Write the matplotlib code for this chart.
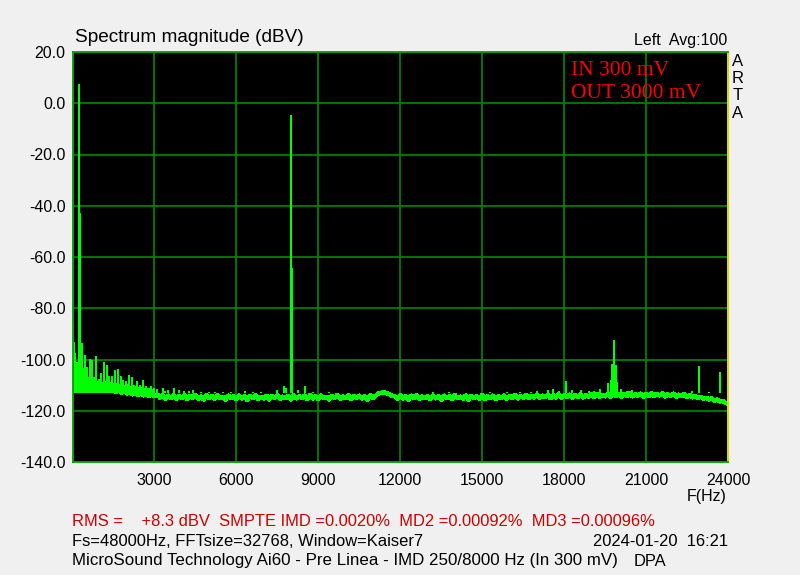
import matplotlib
matplotlib.use('Agg')
import matplotlib.pyplot as plt
import numpy as np

# noise floor, one value per 100 Hz (0 .. 24000 Hz), dBV
floor_db = [
    -101.0, -105.0, -107.2, -108.0, -109.5, -108.8, -110.4, -109.6, -111.0, -110.2,
    -111.5, -110.7, -112.0, -111.1, -112.3, -111.6, -112.8, -111.9, -113.0, -112.2,
    -113.3, -112.5, -113.6, -112.7, -113.8, -113.0, -114.0, -113.2, -114.2, -113.4,
    -114.3,
    -113.6, -114.9, -113.9, -115.3, -114.1, -115.0, -113.8, -115.4, -114.3, -115.1,
    -113.9, -115.5, -114.2, -114.9, -113.8, -115.3, -114.4, -115.6, -114.0, -115.0,
    -114.2, -115.4, -113.9, -115.1, -114.5, -115.7, -114.1, -115.0, -114.3, -115.5,
    -114.0, -115.2, -114.4, -115.8, -114.2, -115.0, -113.9, -115.4, -114.6, -115.2,
    -114.1, -115.6, -114.3, -115.0, -113.9, -115.3, -114.5, -115.1, -114.2, -115.7,
    -114.0, -115.2, -114.4, -115.0, -114.1, -115.5, -113.9, -115.2, -114.3, -115.4,
    -114.0, -115.1, -114.5, -115.6, -114.2, -115.0, -113.8, -115.3, -114.4, -115.1,
    -114.0, -115.5, -114.3, -115.0, -114.1, -115.2, -114.4, -115.6, -114.0, -115.1,
    -114.1, -113.3, -113.0, -112.7, -113.2, -113.4, -114.3,
    -114.4, -115.4, -114.0,
    -115.2, -114.3, -115.6, -114.1, -115.0, -113.9, -115.3, -114.5, -115.1, -114.2,
    -115.5, -114.0, -115.2, -114.4, -115.7, -114.1, -115.0, -114.3, -115.4, -113.9,
    -115.1, -114.5, -115.3, -114.0, -115.6, -114.2, -115.0, -114.4, -115.2, -113.9,
    -115.4, -114.3, -115.0, -114.1, -115.5, -114.4, -115.1, -114.0, -115.3, -114.2,
    -115.0, -113.8, -115.2, -114.3, -114.9, -113.9, -115.1, -114.2, -114.8, -113.7,
    -115.0, -114.1, -114.7, -113.8, -115.1, -114.0, -114.8, -113.6, -114.9, -114.0,
    -114.7, -113.7, -115.0, -113.9, -114.6, -113.5, -114.8, -113.8, -114.5, -113.6,
    -114.7, -113.5, -114.6, -113.8, -114.4, -113.3, -114.5, -113.6, -114.3, -113.4,
    -114.6, -113.5, -114.2, -113.2, -114.4, -113.6, -114.1, -113.3, -114.5, -113.4,
    -114.2, -113.1, -114.3, -113.5, -114.0, -113.2, -114.4, -113.6, -114.1, -113.3,
    -114.5, -113.7, -114.3, -113.5, -114.6,
    -113.9, -114.8, -114.2, -115.0, -114.5, -115.3, -114.9, -115.6, -115.2, -116.0,
    -115.6, -116.4, -116.1, -116.9, -117.3,
]
floor_freq = np.arange(len(floor_db)) * 100

# discrete lines (tones, harmonics, spurs)
spike_freq = [20, 50, 100, 150, 200, 250, 270, 300, 330, 360, 390, 420, 450, 480,
              510, 540, 580, 630, 680, 730, 780, 800, 850, 900, 930, 980, 1040,
              1100, 1150, 1200, 1260, 1300, 1340, 1400, 1450, 1500, 1560, 1600,
              1660, 1700, 1760, 1800, 1860, 1900, 1960, 2000, 2070, 2120, 2170,
              2220, 2270, 2320, 2370, 2420, 2470, 2520, 2570, 2620, 2680, 2730,
              2780, 2830, 2880, 2930, 2980, 3100, 3300, 3400, 3500, 3700, 3900,
              4100, 4255, 4400, 4700, 5000, 5200, 5500, 5800, 6000, 6300, 6600,
              6900, 7100, 7500, 7730, 7800, 8000, 8030, 8250, 8500, 8800, 9000,
              9400, 9800, 10100, 10500, 12300, 12900, 13200, 13800, 14000, 14600,
              15300, 15900, 16400, 16800, 17000, 17400, 17600, 17800, 18070, 18300,
              18600, 18900, 19100, 19300, 19600, 19700, 19720, 19750, 19780, 19800,
              19840, 19870, 19890, 19910, 19940, 20100, 20300, 20500, 20800, 21300,
              21600, 22000, 22400, 22700, 22950, 23300, 23500, 23720]
spike_db = [-86.5, -93.0, -97.3, -101.0, -104.0, 7.5, -43.0, -106.0, -93.6, -105.5,
            -103.3, -107.0, -98.2, -106.5, -107.5, -103.0, -107.0, -99.8, -107.5,
            -100.0, -108.0, -107.0, -98.5, -108.5, -108.7, -107.8, -105.3, -108.6,
            -101.0, -108.2, -102.2, -109.0, -106.4, -108.8, -106.4, -109.2, -104.0,
            -109.0, -103.8, -109.5, -106.4, -109.3, -108.0, -110.0, -108.3, -109.6,
            -106.0, -110.2, -107.0, -110.0, -109.8, -110.5, -108.5, -110.6, -110.0,
            -110.8, -108.0, -111.0, -110.5, -111.2, -111.3, -111.0, -110.5, -111.4,
            -111.0, -111.5, -111.0, -112.2, -111.8, -111.2, -112.0, -112.3, -112.3,
            -112.0, -112.5, -112.8, -112.6, -112.5, -112.8, -113.0, -112.4, -112.5,
            -112.6, -112.9, -112.0, -110.3, -111.0, -4.6, -64.3, -111.9, -110.3,
            -112.8, -113.0, -112.5, -113.0, -113.0, -112.9, -113.0, -113.0, -112.7,
            -112.8, -113.0, -112.9, -112.6, -112.8, -112.8, -112.5, -112.2, -112.0,
            -111.5, -112.3, -108.4, -112.0, -112.0, -112.4, -112.2, -111.5, -109.0,
            -108.0, -108.3, -101.8, -108.0, -107.8, -92.4, -108.0, -108.5, -102.2,
            -108.6, -111.5, -112.3, -112.0, -112.5, -112.5, -112.4, -112.6, -112.5,
            -112.4, -102.5, -112.5, -113.0, -104.9]

x_ticks = [0, 3000, 6000, 9000, 12000, 15000, 18000, 21000, 24000]
x_labels = ['', '3000', '6000', '9000', '12000', '15000', '18000', '21000', '24000']
y_ticks = [-140, -120, -100, -80, -60, -40, -20, 0, 20]

plt.rcParams['font.family'] = ['Liberation Sans', 'DejaVu Sans']
plt.rcParams['axes.unicode_minus'] = False

W, H = 800, 575
fig = plt.figure(figsize=(8, 5.75), dpi=100, facecolor='#f0f0f0')
ax = fig.add_axes([72.5 / W, 1 - 462 / H, (728 - 72.5) / W, (462 - 52) / H])
ax.set_facecolor('black')

green = '#00ff00'
ax.plot(floor_freq, floor_db, color=green, linewidth=2.4, antialiased=False)
ax.vlines(spike_freq, -113, spike_db, color=green, linewidth=1.3, antialiased=False)

ax.set_xlim(0, 24000)
ax.set_ylim(-140, 20)
ax.set_xticks(x_ticks)
ax.set_xticklabels(x_labels)
ax.set_yticks(y_ticks)
ax.set_yticklabels(['%.1f' % v for v in y_ticks])
ax.tick_params(axis='both', length=0, labelsize=11.5, labelcolor='#000000')
ax.tick_params(axis='y', pad=5)
ax.tick_params(axis='x', pad=8)
ax.grid(True, color='#008a00', linewidth=1.2)
ax.set_axisbelow(True)
for side in ['left', 'top', 'bottom']:
    ax.spines[side].set_color('#00a000')
    ax.spines[side].set_linewidth(1.3)
ax.spines['right'].set_color('#d8d800')
ax.spines['right'].set_linewidth(1.5)

def ftext(x, y, s, **kw):
    fig.text(x / W, 1 - y / H, s, **kw)

ftext(75, 38, 'Spectrum magnitude (dBV)', fontsize=13.7, va='center', ha='left')
ftext(727, 40, 'Left  Avg:100', fontsize=11.5, va='center', ha='right')
for i, ch in enumerate('ARTA'):
    ftext(738, 61 + i * 17.5, ch, fontsize=12, va='center', ha='center')

ax.text(0.760, 0.955, 'IN 300 mV', transform=ax.transAxes, color='#ff0000',
        family='Liberation Serif', fontsize=15.5, va='center', ha='left')
ax.text(0.760, 0.9, 'OUT 3000 mV', transform=ax.transAxes, color='#ff0000',
        family='Liberation Serif', fontsize=15.5, va='center', ha='left')

ftext(727, 497, 'F(Hz)', fontsize=11.5, va='center', ha='right')
ftext(72, 522, 'RMS =    +8.3 dBV  SMPTE IMD =0.0020%  MD2 =0.00092%  MD3 =0.00096%',
      fontsize=11.85, color='#d00000', va='center', ha='left')
ftext(72, 541, 'Fs=48000Hz, FFTsize=32768, Window=Kaiser7', fontsize=11.85,
      va='center', ha='left')
ftext(593, 541, '2024-01-20  16:21', fontsize=11.85, va='center', ha='left')
ftext(72, 561, 'MicroSound Technology Ai60 - Pre Linea - IMD 250/8000 Hz (In 300 mV)',
      fontsize=12.15, va='center', ha='left')
ftext(634, 561, 'DPA', fontsize=11.85, va='center', ha='left')

fig.savefig('out.png', dpi=100, facecolor=fig.get_facecolor())
